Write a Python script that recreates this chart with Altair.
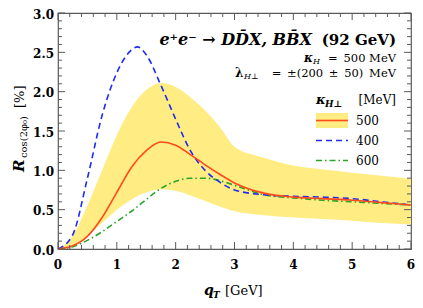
import altair as alt
import pandas as pd

# ---------------- data ----------------
x_grid = [0, 0.25, 0.5, 0.75, 1.0, 1.25, 1.5, 1.75, 2.0, 2.25, 2.5, 2.75,
          3.0, 3.5, 4.0, 4.5, 5.0, 5.5, 6.0]
band_lo = [0, 0.05, 0.17, 0.33, 0.50, 0.63, 0.72, 0.76, 0.74, 0.68, 0.61, 0.54,
           0.48, 0.43, 0.40, 0.38, 0.36, 0.33, 0.31]
band_hi = [0, 0.17, 0.55, 1.00, 1.45, 1.80, 2.02, 2.11, 2.06, 1.93, 1.76, 1.55,
           1.30, 1.16, 1.06, 1.01, 0.97, 0.93, 0.89]
r500 = [0, 0.04, 0.16, 0.40, 0.72, 1.04, 1.25, 1.36, 1.32, 1.20, 1.07, 0.95,
        0.84, 0.71, 0.66, 0.64, 0.62, 0.59, 0.56]
r600 = [0, 0.03, 0.11, 0.22, 0.35, 0.48, 0.63, 0.77, 0.86, 0.90, 0.90, 0.87,
        0.81, 0.69, 0.65, 0.62, 0.60, 0.58, 0.56]
x_400 = [0, 0.25, 0.5, 0.75, 1.0, 1.25, 1.35, 1.5, 1.75, 2.0, 2.25, 2.5, 2.75,
         3.0, 3.5, 4.0, 4.5, 5.0, 5.5, 6.0]
r400 = [0, 0.18, 0.90, 1.70, 2.24, 2.53, 2.57, 2.47, 2.08, 1.65, 1.25, 1.00, 0.85,
        0.75, 0.69, 0.67, 0.66, 0.64, 0.60, 0.56]

x_major = [0, 1, 2, 3, 4, 5, 6]
x_labels = ["0", "1", "2", "3", "4", "5", "6"]
x_minor = [round(i * 0.2, 1) for i in range(31) if i % 5 != 0]
y_major = [0, 0.5, 1.0, 1.5, 2.0, 2.5, 3.0]
y_labels = ["0.0", "0.5", "1.0", "1.5", "2.0", "2.5", "3.0"]
y_minor = [round(i * 0.1, 1) for i in range(31) if i % 5 != 0]

legend_labels = ["500", "400", "600"]

# ---------------- styling ----------------
W, H = 353, 236
XMAX, YMAX = 6.0, 3.0
FONT = "DejaVu Serif"
FRAME = "#5a5a5a"
YELLOW = "#ffec82"
RED = "#ff4a1c"
BLUE = "#1f2cf0"
GREEN = "#2aa52a"
MAJ, MIN = 7, 4  # tick lengths in px

XS = alt.Scale(domain=[0, XMAX], nice=False, zero=False)
YS = alt.Scale(domain=[0, YMAX], nice=False, zero=False)

band_df = pd.DataFrame({"q": x_grid, "lo": band_lo, "hi": band_hi})
d500 = pd.DataFrame({"q": x_grid, "r": r500})
d600 = pd.DataFrame({"q": x_grid, "r": r600})
d400 = pd.DataFrame({"q": x_400, "r": r400})

band = alt.Chart(band_df).mark_area(color=YELLOW, interpolate="monotone").encode(
    x=alt.X("q:Q", scale=XS, axis=None),
    y=alt.Y("lo:Q", scale=YS, axis=None),
    y2="hi:Q",
)


def line(df, color, dash=None, width=1.6):
    kw = dict(color=color, strokeWidth=width, interpolate="monotone")
    if dash:
        kw["strokeDash"] = dash
    return alt.Chart(df).mark_line(**kw).encode(
        x=alt.X("q:Q", scale=XS, axis=None),
        y=alt.Y("r:Q", scale=YS, axis=None),
    )


l600 = line(d600, GREEN, [6, 3, 1.5, 3])
l400 = line(d400, BLUE, [6, 4])
l500 = line(d500, RED)

# ---- inward ticks on all four sides (tick length converted to data units) ----
rows_x = []
for vals, L in ((x_major, MAJ), (x_minor, MIN)):
    dy = L / H * YMAX
    for v in vals:
        rows_x.append({"v": v, "a": 0.0, "b": dy})
        rows_x.append({"v": v, "a": YMAX, "b": YMAX - dy})
rows_y = []
for vals, L in ((y_major, MAJ), (y_minor, MIN)):
    dx = L / W * XMAX
    for v in vals:
        rows_y.append({"v": v, "a": 0.0, "b": dx})
        rows_y.append({"v": v, "a": XMAX, "b": XMAX - dx})

xt = alt.Chart(pd.DataFrame(rows_x)).mark_line(color=FRAME, strokeWidth=1).encode(
    x=alt.X("v:Q", scale=XS, axis=None),
    y=alt.Y("a:Q", scale=YS, axis=None),
    detail="v:N",
)
xt = alt.Chart(pd.DataFrame(rows_x)).mark_rule(color=FRAME, strokeWidth=1).encode(
    x=alt.X("v:Q", scale=XS, axis=None),
    y=alt.Y("a:Q", scale=YS, axis=None),
    y2="b:Q",
)
yt = alt.Chart(pd.DataFrame(rows_y)).mark_rule(color=FRAME, strokeWidth=1).encode(
    y=alt.Y("v:Q", scale=YS, axis=None),
    x=alt.X("a:Q", scale=XS, axis=None),
    x2="b:Q",
)

xlab = alt.Chart(pd.DataFrame({"v": x_major, "t": x_labels})).mark_text(
    font=FONT, fontSize=12, fontWeight="bold", color="black", align="center",
    baseline="alphabetic").encode(
    x=alt.X("v:Q", scale=XS, axis=None), y=alt.value(H + 20), text="t:N")
ylab = alt.Chart(pd.DataFrame({"v": y_major, "t": y_labels})).mark_text(
    font=FONT, fontSize=12, fontWeight="bold", color="black", align="right",
    baseline="middle", dy=1.5).encode(
    y=alt.Y("v:Q", scale=YS, axis=None), x=alt.value(-4), text="t:N")

one = pd.DataFrame({"a": [0]})


def txt(s, px, py, size, weight="normal", style="normal", align="left", angle=0):
    kw = dict(text=s, fontSize=size, fontWeight=weight, fontStyle=style, align=align,
              baseline="alphabetic", font=FONT, color="black")
    if angle:
        kw["angle"] = angle
    return alt.Chart(one).mark_text(**kw).encode(x=alt.value(px), y=alt.value(py))


EN = "\u2002"
texts = [
    # main title
    txt("e\u207ae\u207b \u2192 DD\u0304X, BB\u0304X", W - 99, 32, 16, "bold", "italic", "right"),
    txt("(92 GeV)", W - 15, 32, 15, "bold", "normal", "right"),
    # kappa_H line
    txt("\u03ba", W - 107, 49, 12, "bold", "italic"),
    txt("H", W - 98, 51, 8, "normal", "italic"),
    txt("=" + EN + "500 MeV", W - 15, 49, 11.5, "normal", "normal", "right"),
    # lambda line
    txt("\u03bb", W - 176, 64, 12, "bold", "normal"),
    txt("H\u22a5", W - 167, 66, 8, "normal", "italic"),
    txt("=" + EN + "\u00b1(200" + EN + "\u00b1" + EN + "50)" + EN + "MeV", W - 15, 64, 11.5,
        "normal", "normal", "right"),
    # legend title
    txt("\u03ba", W - 95, 91, 13, "bold", "italic"),
    txt("H\u22a5", W - 86, 94, 9, "bold", "italic"),
    txt("[MeV]", W - 15, 91, 12, "normal", "normal", "right"),
    # legend labels
    txt(legend_labels[0], W - 55, 112, 12),
    txt(legend_labels[1], W - 55, 132, 12),
    txt(legend_labels[2], W - 55, 152, 12),
    # x title
    txt("q", 146, 282, 14, "bold", "italic"),
    txt("T", 155, 285, 9, "bold", "italic"),
    txt("[GeV]", 167, 282, 13),
    # y title (rotated)
    txt("R", -34, 159, 15, "bold", "italic", "left", 270),
    txt("cos(2\u03c6\u2080)", -31, 145, 10, "normal", "normal", "left", 270),
    txt("[%]", -34, 95, 13, "normal", "normal", "left", 270),
]

LX1, LX2 = W - 95, W - 63
leg_box = alt.Chart(one).mark_rect(color=YELLOW).encode(
    x=alt.value(LX1), x2=alt.value(LX2), y=alt.value(100), y2=alt.value(115))
leg_red = alt.Chart(one).mark_rule(color=RED, strokeWidth=1.6).encode(
    x=alt.value(LX1), x2=alt.value(LX2), y=alt.value(107.5))
leg_blue = alt.Chart(one).mark_rule(color=BLUE, strokeWidth=1.6, strokeDash=[6, 4]).encode(
    x=alt.value(LX1), x2=alt.value(LX2), y=alt.value(127.5))
leg_green = alt.Chart(one).mark_rule(color=GREEN, strokeWidth=1.6, strokeDash=[6, 3, 1.5, 3]).encode(
    x=alt.value(LX1), x2=alt.value(LX2), y=alt.value(147.5))

chart = alt.layer(
    band, l600, l400, l500, xt, yt, xlab, ylab,
    leg_box, leg_red, leg_blue, leg_green, *texts
).properties(
    width=W, height=H,
    autosize="none",
    padding={"left": 50, "top": 5, "right": 4, "bottom": 50},
).configure_view(
    stroke=FRAME, strokeWidth=1.2
)

chart.save("out.html", embed_options={"renderer": "svg", "actions": False})
